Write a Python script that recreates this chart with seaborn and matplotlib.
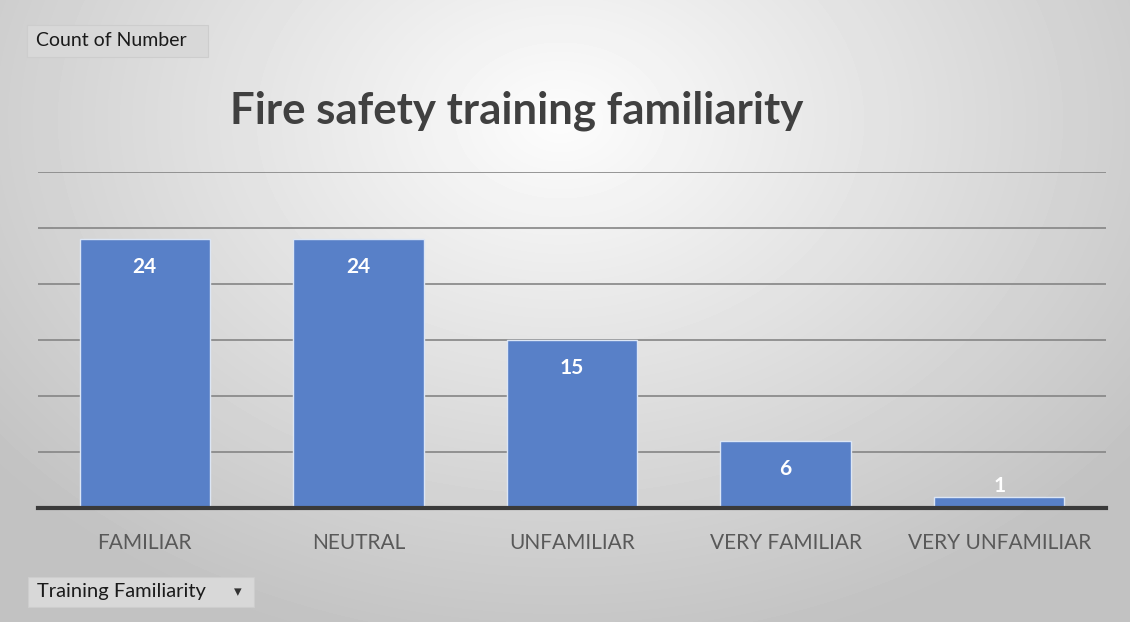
import numpy as np
import pandas as pd
import matplotlib
matplotlib.use("Agg")
import matplotlib.pyplot as plt
import seaborn as sns
from matplotlib.patches import FancyBboxPatch

# DATA

categories = ["FAMILIAR", "NEUTRAL", "UNFAMILIAR", "VERY FAMILIAR", "VERY UNFAMILIAR"]
counts = [24, 24, 15, 6, 1]
title = "Fire safety training familiarity"
value_field = "Count of Number"
axis_field = "Training Familiarity"

df = pd.DataFrame({"familiarity": categories, "count": counts})

sns.set_theme(style="white")
plt.rcParams['font.family'] = ['Lato', 'DejaVu Sans']

fig = plt.figure(figsize=(11.3, 6.22), dpi=100)

# BACKGROUND (radial gradient, light top-centre to grey edges)

bg = fig.add_axes([0, 0, 1, 1], zorder=0)
yy, xx = np.mgrid[0:622, 0:1130]
r = np.sqrt(((xx - 560) / 700.0) ** 2 + ((yy - 120) / 520.0) ** 2)
shade = np.clip(0.99 - 0.22 * r, 0.76, 0.99)
bg.imshow(shade, cmap="gray", vmin=0, vmax=1, aspect="auto", extent=[0, 1, 0, 1], origin="upper")
bg.set_axis_off()

# BARS

ax = fig.add_axes([38 / 1130, (622 - 508) / 622, (1106 - 38) / 1130, (508 - 172) / 622], zorder=1)
ax.patch.set_alpha(0)
sns.barplot(data=df, x="familiarity", y="count", color="#5880c8", saturation=1,
            width=0.61, edgecolor="#dce6f5", linewidth=1.0, ax=ax, zorder=3)
ax.set_ylim(0, 30)
ax.set_yticks(range(0, 31, 5))
ax.yaxis.grid(True, color="#858585", linewidth=1.2, zorder=0)
ax.tick_params(axis="y", left=False, labelleft=False)
ax.tick_params(axis="x", bottom=False, labelsize=15, labelcolor="#595959", pad=12)
ax.set_xlabel("")
ax.set_ylabel("")
for s in ["top", "right", "left"]:
    ax.spines[s].set_visible(False)
ax.spines["bottom"].set_color("#3a3a3a")
ax.spines["bottom"].set_linewidth(3)
ax.spines["bottom"].set_zorder(5)

for i, v in enumerate(counts):
    if v >= 3:
        ax.text(i, v - 2.5, str(v), ha="center", va="center", color="white",
                fontsize=15, fontweight="bold", zorder=6)
    else:
        ax.text(i, v + 1.0, str(v), ha="center", va="center", color="white",
                fontsize=15, fontweight="bold", zorder=6)

# TITLE

fig.text(517 / 1130, 1 - 111 / 622, title, ha="center", va="center",
         fontsize=31.5, fontweight="bold", color="#404040")

# PIVOT FIELD BUTTONS

def button(x0, y0, w, h, label, fs):
    box = FancyBboxPatch((x0 / 1130, 1 - (y0 + h) / 622), w / 1130, h / 622,
                         boxstyle="square,pad=0", transform=fig.transFigure,
                         facecolor="#d8d8d8", edgecolor="#cdcdcd", linewidth=0.8, zorder=2)
    fig.patches.append(box)
    fig.text((x0 + 9) / 1130, 1 - (y0 + h / 2) / 622, label, ha="left", va="center",
             fontsize=fs, color="#1a1a1a", zorder=3)

button(27, 25, 181, 32, value_field, 14)
button(28, 577, 226, 30, axis_field, 14.5)
fig.text(238 / 1130, 1 - 592 / 622, "\u25be", ha="center", va="center",
         fontsize=11, color="#333333", family=["DejaVu Sans"])

fig.savefig("out.png", dpi=100)
